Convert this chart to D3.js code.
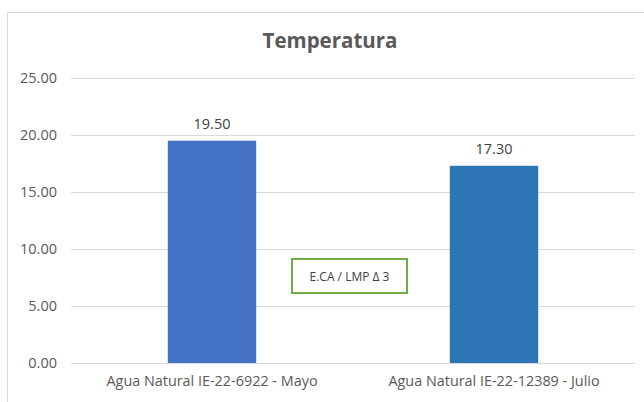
<!DOCTYPE html>
<html>
<head>
<meta charset="utf-8">
<script src="https://cdn.jsdelivr.net/npm/d3@7"></script>
<style>
    body { margin: 0; background: #fff; }
    text { font-family: "Open Sans", "Liberation Sans", sans-serif; }
</style>
</head>
<body>
<script>
// Chart data
const categories = ['Agua Natural IE-22-6922 - Mayo', 'Agua Natural IE-22-12389 - Julio'];
const values = [19.5, 17.3];
const barColors = ['#4472C4', '#2E75B6'];
const yTicks = [0, 5, 10, 15, 20, 25];
const chartTitle = 'Temperatura';
const noteText = 'E.CA / LMP \u0394 3';

const W = 644, H = 402;
const margin = { top: 78, right: 9, bottom: 39, left: 71 };
const width = W - margin.left - margin.right;
const height = H - margin.top - margin.bottom;

const svg = d3.select('body').append('svg')
    .attr('width', W)
    .attr('height', H);

// chart frame
svg.append('rect')
    .attr('x', 7.5)
    .attr('y', 12.5)
    .attr('width', W)
    .attr('height', H)
    .attr('fill', 'none')
    .attr('stroke', '#d9d9d9');

svg.append('text')
    .attr('x', 330)
    .attr('y', 48)
    .attr('text-anchor', 'middle')
    .style('font-size', '20.5px')
    .style('font-weight', 'bold')
    .attr('fill', '#595959')
    .text(chartTitle);

const g = svg.append('g')
    .attr('transform', 'translate(' + margin.left + ',' + margin.top + ')');

const x = d3.scaleBand()
    .domain(categories)
    .range([0, width]);

const y = d3.scaleLinear()
    .domain([0, 25])
    .range([height, 0]);

const barW = x.bandwidth() / 3.19;

// gridlines
g.selectAll('.grid')
    .data(yTicks)
    .enter()
    .append('line')
    .attr('x1', 0)
    .attr('x2', width)
    .attr('y1', d => Math.round(y(d)) + 0.5)
    .attr('y2', d => Math.round(y(d)) + 0.5)
    .attr('stroke', '#d9d9d9')
    .attr('stroke-width', 1);

const yAxis = d3.axisLeft(y)
    .tickValues(yTicks)
    .tickFormat(d3.format('.2f'))
    .tickSize(0)
    .tickPadding(14);

g.append('g')
    .call(yAxis)
    .call(a => a.select('.domain').remove())
    .call(a => a.selectAll('text')
        .attr('fill', '#595959')
        .style('font-size', '14.5px')
        .style('font-family', '"Open Sans", sans-serif'));

const xAxis = d3.axisBottom(x)
    .tickSize(0)
    .tickPadding(13);

g.append('g')
    .attr('transform', 'translate(0,' + height + ')')
    .call(xAxis)
    .call(a => a.select('.domain').remove())
    .call(a => a.selectAll('text')
        .attr('fill', '#595959')
        .style('font-size', '14.4px')
        .style('font-family', '"Open Sans", sans-serif'));

g.selectAll('.bar')
    .data(values)
    .enter()
    .append('rect')
    .attr('class', 'bar')
    .attr('x', (d, i) => x(categories[i]) + x.bandwidth() / 2 - barW / 2)
    .attr('y', d => y(d))
    .attr('width', barW)
    .attr('height', d => height - y(d))
    .attr('fill', (d, i) => barColors[i]);

g.selectAll('.label')
    .data(values)
    .enter()
    .append('text')
    .attr('x', (d, i) => x(categories[i]) + x.bandwidth() / 2)
    .attr('y', d => y(d) - 12)
    .attr('text-anchor', 'middle')
    .attr('fill', '#404040')
    .style('font-size', '14.5px')
    .text(d => d3.format('.2f')(d));

// note box
const note = svg.append('g');
note.append('rect')
    .attr('x', 292)
    .attr('y', 259)
    .attr('width', 115)
    .attr('height', 34)
    .attr('fill', '#fff')
    .attr('stroke', '#70AD47')
    .attr('stroke-width', 2);
note.append('text')
    .attr('x', 349.5)
    .attr('y', 280.5)
    .attr('text-anchor', 'middle')
    .attr('fill', '#404040')
    .style('font-size', '12px')
    .text(noteText);
</script>
</body>
</html>
